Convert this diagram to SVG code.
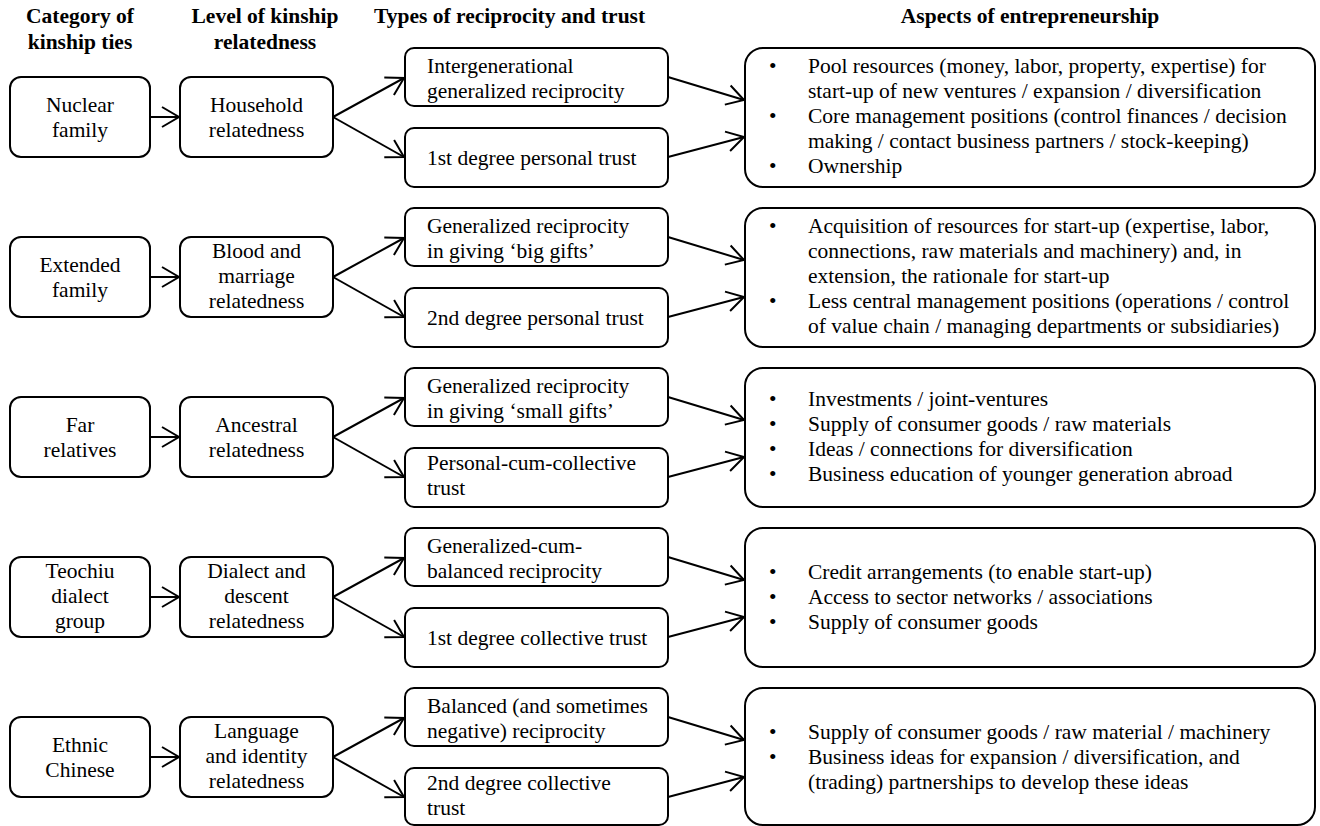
<svg xmlns="http://www.w3.org/2000/svg" width="1320" height="826" viewBox="0 0 1320 826">
<style>
  rect { fill: #fff; stroke: #000; stroke-width: 2; }
  text { font-family: "Liberation Serif", "Times New Roman", serif; font-size: 21.5px; fill: #000; }
  .h { font-weight: bold; }
  .c { text-anchor: middle; }
  .conn path { fill: none; stroke: #000; stroke-width: 2; }
</style>
<defs>
  <marker id="ah" markerUnits="userSpaceOnUse" markerWidth="30" markerHeight="30" viewBox="-20 -15 30 30" refX="0" refY="0" orient="auto" overflow="visible">
    <path d="M-17,-10 L0,0 L-17,10" fill="none" stroke="#000" stroke-width="2"/>
  </marker>
</defs>
<rect x="0" y="0" width="1320" height="826" style="stroke:none;fill:#fff"/>

<g id="headers">
  <text class="h c" x="80" y="23">Category of</text>
  <text class="h c" x="80" y="49">kinship ties</text>
  <text class="h c" x="265" y="23">Level of kinship</text>
  <text class="h c" x="265" y="49">relatedness</text>
  <text class="h" x="374" y="23">Types of reciprocity and trust</text>
  <text class="h c" x="1030" y="23">Aspects of entrepreneurship</text>
</g>

<!-- Row 1 -->
<g id="nuclear-family"><rect x="10" y="77" width="140" height="80" rx="11"/>
  <text class="c" x="80" y="112">Nuclear</text><text class="c" x="80" y="137">family</text></g>
<g id="household-relatedness"><rect x="180" y="77" width="153" height="80" rx="11"/>
  <text class="c" x="256.5" y="112">Household</text><text class="c" x="256.5" y="137">relatedness</text></g>
<g id="intergenerational-reciprocity"><rect x="405" y="48" width="263" height="58" rx="9"/>
  <text x="427" y="73">Intergenerational</text><text x="427" y="98">generalized reciprocity</text></g>
<g id="first-degree-personal-trust"><rect x="405" y="128" width="263" height="59" rx="9"/>
  <text x="427" y="165">1st degree personal trust</text></g>
<g id="aspects-1"><rect x="745" y="48" width="570" height="139" rx="18"/>
  <text x="769" y="73">•</text><text x="808" y="73">Pool resources (money, labor, property, expertise) for</text>
  <text x="808" y="98">start-up of new ventures / expansion / diversification</text>
  <text x="769" y="123">•</text><text x="808" y="123">Core management positions (control finances / decision</text>
  <text x="808" y="148">making / contact business partners / stock-keeping)</text>
  <text x="769" y="173">•</text><text x="808" y="173">Ownership</text></g>

<!-- Row 2 -->
<g id="extended-family"><rect x="10" y="237" width="140" height="80" rx="11"/>
  <text class="c" x="80" y="272">Extended</text><text class="c" x="80" y="297">family</text></g>
<g id="blood-marriage-relatedness"><rect x="180" y="237" width="153" height="80" rx="11"/>
  <text class="c" x="256.5" y="258">Blood and</text><text class="c" x="256.5" y="283">marriage</text><text class="c" x="256.5" y="308">relatedness</text></g>
<g id="big-gifts-reciprocity"><rect x="405" y="208" width="263" height="58" rx="9"/>
  <text x="427" y="233">Generalized reciprocity</text><text x="427" y="258">in giving ‘big gifts’</text></g>
<g id="second-degree-personal-trust"><rect x="405" y="288" width="263" height="59" rx="9"/>
  <text x="427" y="325">2nd degree personal trust</text></g>
<g id="aspects-2"><rect x="745" y="208" width="570" height="139" rx="18"/>
  <text x="769" y="233">•</text><text x="808" y="233">Acquisition of resources for start-up (expertise, labor,</text>
  <text x="808" y="258">connections, raw materials and machinery) and, in</text>
  <text x="808" y="283">extension, the rationale for start-up</text>
  <text x="769" y="308">•</text><text x="808" y="308">Less central management positions (operations / control</text>
  <text x="808" y="333">of value chain / managing departments or subsidiaries)</text></g>

<!-- Row 3 -->
<g id="far-relatives"><rect x="10" y="397" width="140" height="80" rx="11"/>
  <text class="c" x="80" y="432">Far</text><text class="c" x="80" y="457">relatives</text></g>
<g id="ancestral-relatedness"><rect x="180" y="397" width="153" height="80" rx="11"/>
  <text class="c" x="256.5" y="432">Ancestral</text><text class="c" x="256.5" y="457">relatedness</text></g>
<g id="small-gifts-reciprocity"><rect x="405" y="368" width="263" height="58" rx="9"/>
  <text x="427" y="393">Generalized reciprocity</text><text x="427" y="418">in giving ‘small gifts’</text></g>
<g id="personal-cum-collective-trust"><rect x="405" y="448" width="263" height="59" rx="9"/>
  <text x="427" y="470">Personal-cum-collective</text><text x="427" y="495">trust</text></g>
<g id="aspects-3"><rect x="745" y="368" width="570" height="139" rx="18"/>
  <text x="769" y="406">•</text><text x="808" y="406">Investments / joint-ventures</text>
  <text x="769" y="431">•</text><text x="808" y="431">Supply of consumer goods / raw materials</text>
  <text x="769" y="456">•</text><text x="808" y="456">Ideas / connections for diversification</text>
  <text x="769" y="481">•</text><text x="808" y="481">Business education of younger generation abroad</text></g>

<!-- Row 4 -->
<g id="teochiu-dialect-group"><rect x="10" y="557" width="140" height="80" rx="11"/>
  <text class="c" x="80" y="578">Teochiu</text><text class="c" x="80" y="603">dialect</text><text class="c" x="80" y="628">group</text></g>
<g id="dialect-descent-relatedness"><rect x="180" y="557" width="153" height="80" rx="11"/>
  <text class="c" x="256.5" y="578">Dialect and</text><text class="c" x="256.5" y="603">descent</text><text class="c" x="256.5" y="628">relatedness</text></g>
<g id="generalized-cum-balanced"><rect x="405" y="528" width="263" height="58" rx="9"/>
  <text x="427" y="553">Generalized-cum-</text><text x="427" y="578">balanced reciprocity</text></g>
<g id="first-degree-collective-trust"><rect x="405" y="608" width="263" height="59" rx="9"/>
  <text x="427" y="645">1st degree collective trust</text></g>
<g id="aspects-4"><rect x="745" y="528" width="570" height="139" rx="18"/>
  <text x="769" y="579">•</text><text x="808" y="579">Credit arrangements (to enable start-up)</text>
  <text x="769" y="604">•</text><text x="808" y="604">Access to sector networks / associations</text>
  <text x="769" y="629">•</text><text x="808" y="629">Supply of consumer goods</text></g>

<!-- Row 5 -->
<g id="ethnic-chinese"><rect x="10" y="717" width="140" height="80" rx="11"/>
  <text class="c" x="80" y="752">Ethnic</text><text class="c" x="80" y="777">Chinese</text></g>
<g id="language-identity-relatedness"><rect x="180" y="717" width="153" height="80" rx="11"/>
  <text class="c" x="256.5" y="738">Language</text><text class="c" x="256.5" y="763">and identity</text><text class="c" x="256.5" y="788">relatedness</text></g>
<g id="balanced-reciprocity"><rect x="405" y="688" width="263" height="58" rx="9"/>
  <text x="427" y="713">Balanced (and sometimes</text><text x="427" y="738">negative) reciprocity</text></g>
<g id="second-degree-collective-trust"><rect x="405" y="768" width="263" height="57" rx="9"/>
  <text x="427" y="790">2nd degree collective</text><text x="427" y="815">trust</text></g>
<g id="aspects-5"><rect x="745" y="688" width="570" height="137" rx="18"/>
  <text x="769" y="739">•</text><text x="808" y="739">Supply of consumer goods / raw material / machinery</text>
  <text x="769" y="764">•</text><text x="808" y="764">Business ideas for expansion / diversification, and</text>
  <text x="808" y="789">(trading) partnerships to develop these ideas</text></g>

<g id="connectors" class="conn">
  <path d="M150,117 L179,117" marker-end="url(#ah)"/>
  <path d="M333,117 L404,78" marker-end="url(#ah)"/>
  <path d="M333,117 L404,157" marker-end="url(#ah)"/>
  <path d="M668,77 L744,100" marker-end="url(#ah)"/>
  <path d="M668,157 L744,137" marker-end="url(#ah)"/>

  <path d="M150,277 L179,277" marker-end="url(#ah)"/>
  <path d="M333,277 L404,238" marker-end="url(#ah)"/>
  <path d="M333,277 L404,317" marker-end="url(#ah)"/>
  <path d="M668,237 L744,260" marker-end="url(#ah)"/>
  <path d="M668,317 L744,297" marker-end="url(#ah)"/>

  <path d="M150,437 L179,437" marker-end="url(#ah)"/>
  <path d="M333,437 L404,398" marker-end="url(#ah)"/>
  <path d="M333,437 L404,477" marker-end="url(#ah)"/>
  <path d="M668,397 L744,420" marker-end="url(#ah)"/>
  <path d="M668,477 L744,457" marker-end="url(#ah)"/>

  <path d="M150,597 L179,597" marker-end="url(#ah)"/>
  <path d="M333,597 L404,558" marker-end="url(#ah)"/>
  <path d="M333,597 L404,637" marker-end="url(#ah)"/>
  <path d="M668,557 L744,580" marker-end="url(#ah)"/>
  <path d="M668,637 L744,617" marker-end="url(#ah)"/>

  <path d="M150,757 L179,757" marker-end="url(#ah)"/>
  <path d="M333,757 L404,718" marker-end="url(#ah)"/>
  <path d="M333,757 L404,797" marker-end="url(#ah)"/>
  <path d="M668,717 L744,740" marker-end="url(#ah)"/>
  <path d="M668,797 L744,777" marker-end="url(#ah)"/>
</g>
</svg>
